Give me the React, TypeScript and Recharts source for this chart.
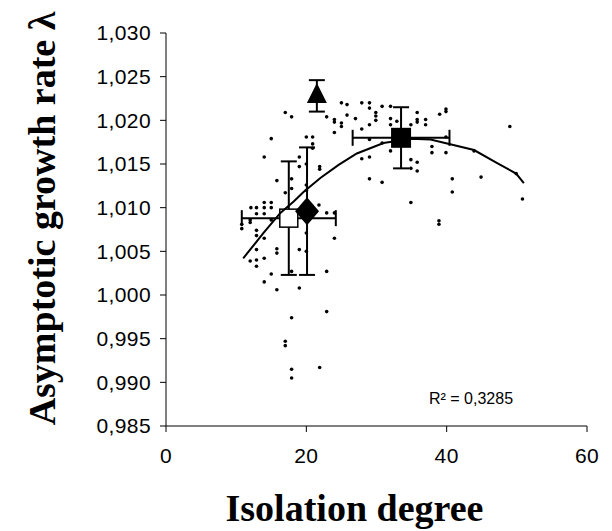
import React from 'react';
import { ScatterChart, Scatter, XAxis, YAxis, ErrorBar, Label, Customized } from 'recharts';

// isolation degree / lambda of each population
const populations: [number, number][] = [
  [12.1, 1.01], [12.9, 1.01], [14.0, 1.0106], [15.0, 1.0106], [14.0, 1.01], [15.0, 1.01],
  [12.9, 1.0093], [14.0, 1.0093], [10.8, 1.0081], [10.8, 1.0076], [12.0, 1.0086], [12.0, 1.0083],
  [15.0, 1.0086], [12.9, 1.0074], [12.9, 1.0068], [14.0, 1.0065], [12.9, 1.0052], [15.8, 1.0053],
  [15.8, 1.0048], [19.0, 1.0052], [20.0, 1.005], [20.0, 1.0071], [12.0, 1.0039], [12.9, 1.004],
  [14.0, 1.0042], [12.9, 1.0033], [15.0, 1.0024], [17.9, 1.0027], [22.9, 1.0027], [14.0, 1.0015],
  [15.8, 1.0006], [19.0, 1.0008], [22.9, 1.0094], [24.0, 1.0094], [24.0, 1.0065], [21.8, 1.0103],
  [17.9, 0.9974], [22.9, 0.9981], [17.0, 0.9947], [17.0, 0.9942], [17.9, 0.9915], [17.9, 0.9905],
  [21.9, 0.9917], [17.0, 1.0209], [17.9, 1.0204], [22.9, 1.0204], [24.0, 1.0186], [15.0, 1.0179],
  [20.0, 1.0181], [20.9, 1.0181], [20.9, 1.0173], [20.9, 1.0168], [14.0, 1.0158], [19.0, 1.0158],
  [19.0, 1.0147], [20.0, 1.015], [21.9, 1.0147], [21.9, 1.0144], [15.8, 1.0131], [17.9, 1.0133],
  [17.9, 1.0122], [17.0, 1.0117], [20.0, 1.0126], [20.0, 1.012], [25.0, 1.022], [25.8, 1.0218],
  [27.9, 1.022], [29.0, 1.022], [29.0, 1.0214], [30.8, 1.0216], [32.0, 1.0216], [29.9, 1.0209],
  [29.9, 1.0205], [29.9, 1.02], [25.8, 1.0206], [24.0, 1.0201], [24.0, 1.0198], [25.0, 1.0197],
  [25.0, 1.0193], [27.0, 1.0202], [27.9, 1.019], [29.0, 1.0195], [32.0, 1.0202], [32.0, 1.0195],
  [32.9, 1.0199], [35.8, 1.0209], [35.8, 1.0201], [35.8, 1.0198], [37.0, 1.0201], [37.0, 1.0195],
  [39.0, 1.0207], [34.9, 1.0195], [29.0, 1.0178], [30.8, 1.0174], [32.0, 1.0165], [37.9, 1.017],
  [37.9, 1.0163], [27.9, 1.0156], [29.0, 1.0158], [34.9, 1.0155], [35.8, 1.0152], [34.9, 1.0145],
  [35.8, 1.0142], [29.0, 1.0133], [30.8, 1.0129], [34.9, 1.0106], [38.9, 1.0085], [38.9, 1.0081],
  [39.9, 1.0213], [39.9, 1.021], [49.0, 1.0193], [39.9, 1.0181], [39.9, 1.0163], [43.9, 1.0165],
  [40.8, 1.0133], [44.9, 1.0135], [40.8, 1.0118], [49.9, 1.0139], [50.8, 1.011],
];

// polynomial trend line
const trendX = [11.0, 13.9, 16.3, 18.2, 19.6, 22.0, 24.6, 27.2, 31.0, 34.9, 37.7, 40.8, 43.9, 47.2, 49.9, 51.0];
const trendY = [1.0042, 1.0071, 1.0094, 1.0107, 1.0118, 1.0134, 1.0149, 1.0162, 1.0174, 1.0179, 1.0178, 1.0172, 1.0166, 1.0151, 1.0139, 1.0128];

// group means with error bars
const whiteSquare = [{ x: 17.5, y: 1.0088, ex: 6.7, ey: 0.0065 }];
const blackDiamond = [{ x: 20.1, y: 1.0096, ey: 0.0073 }];
const blackTriangle = [{ x: 21.5, y: 1.0228, ey: 0.0018 }];
const blackSquare = [{ x: 33.5, y: 1.018, ex: 6.9, ey: 0.0035 }];

const xTicks = [0, 20, 40, 60];
const yTicks = [0.985, 0.99, 0.995, 1.0, 1.005, 1.01, 1.015, 1.02, 1.025, 1.03];

const dots = populations.map(([x, y]) => ({ x, y }));
const trend = trendX.map((x, i) => ({ x, y: trendY[i] }));

const sans = 'Arial, "Liberation Sans", sans-serif';
const serif = '"Times New Roman", "Liberation Serif", serif';
const tickStyle = { fill: '#000', fontSize: 21, fontFamily: sans, letterSpacing: 0.4 };

const Dot = (p: any) => <circle cx={p.cx} cy={p.cy} r={1.8} fill="#000" />;
const WhiteSq = (p: any) => (
  <rect x={p.cx - 9} y={p.cy - 9} width={18} height={18} fill="#fff" stroke="#000" strokeWidth={1.5} />
);
const BlackSq = (p: any) => <rect x={p.cx - 10} y={p.cy - 10} width={20} height={20} fill="#000" />;
const Diamond = (p: any) => (
  <polygon
    points={`${p.cx},${p.cy - 14} ${p.cx + 12},${p.cy} ${p.cx},${p.cy + 14} ${p.cx - 12},${p.cy}`}
    fill="#000"
  />
);
const Triangle = (p: any) => (
  <polygon points={`${p.cx},${p.cy - 13} ${p.cx + 10},${p.cy + 7} ${p.cx - 10},${p.cy + 7}`} fill="#000" />
);

const fmt = (v: number) => v.toFixed(3).replace('.', ',');

const RSquared = () => (
  <text x={429} y={404} fontSize={16} fontFamily={sans} fill="#000">
    R² = 0,3285
  </text>
);

export default function App() {
  return (
    <div style={{ position: 'absolute', left: 0, top: 0, width: 612, height: 531, background: '#fff' }}>
      <ScatterChart width={612} height={531} margin={{ top: 33, right: 25, bottom: 0, left: 0 }}>
        <XAxis
          type="number"
          dataKey="x"
          domain={[0, 60]}
          ticks={xTicks}
          height={105}
          stroke="#000"
          tickSize={6}
          tickMargin={16}
          tick={tickStyle}
        >
          <Label
            content={({ viewBox }: any) => (
              <text
                x={viewBox.x + viewBox.width / 2 - 22}
                y={521}
                textAnchor="middle"
                fontSize={38}
                fontWeight="bold"
                fontFamily={serif}
                fill="#000"
              >
                Isolation degree
              </text>
            )}
          />
        </XAxis>
        <YAxis
          type="number"
          dataKey="y"
          domain={[0.985, 1.03]}
          ticks={yTicks}
          width={166}
          stroke="#000"
          tickSize={6}
          tickMargin={9}
          tickFormatter={fmt}
          tick={tickStyle}
        >
          <Label
            content={({ viewBox }: any) => {
              const cx = 55;
              const cy = viewBox.y + viewBox.height / 2 - 11;
              return (
                <text
                  x={cx}
                  y={cy}
                  transform={`rotate(-90, ${cx}, ${cy})`}
                  textAnchor="middle"
                  fontSize={38}
                  fontWeight="bold"
                  fontFamily={serif}
                  fill="#000"
                >
                  Asymptotic growth rate λ
                </text>
              );
            }}
          />
        </YAxis>
        <Scatter data={dots} shape={Dot} isAnimationActive={false} />
        <Scatter data={whiteSquare} shape={WhiteSq} isAnimationActive={false}>
          <ErrorBar dataKey="ey" direction="y" width={8} stroke="#000" strokeWidth={2} />
          <ErrorBar dataKey="ex" direction="x" width={8} stroke="#000" strokeWidth={2} />
        </Scatter>
        <Scatter data={blackDiamond} shape={Diamond} isAnimationActive={false}>
          <ErrorBar dataKey="ey" direction="y" width={8} stroke="#000" strokeWidth={2} />
        </Scatter>
        <Scatter data={blackTriangle} shape={Triangle} isAnimationActive={false}>
          <ErrorBar dataKey="ey" direction="y" width={8} stroke="#000" strokeWidth={2} />
        </Scatter>
        <Scatter data={blackSquare} shape={BlackSq} isAnimationActive={false}>
          <ErrorBar dataKey="ey" direction="y" width={8} stroke="#000" strokeWidth={2} />
          <ErrorBar dataKey="ex" direction="x" width={8} stroke="#000" strokeWidth={2} />
        </Scatter>
        <Scatter
          data={trend}
          line={{ stroke: '#000', strokeWidth: 2 }}
          lineType="joint"
          shape={() => null}
          isAnimationActive={false}
        />
        <Customized component={RSquared} />
      </ScatterChart>
    </div>
  );
}
